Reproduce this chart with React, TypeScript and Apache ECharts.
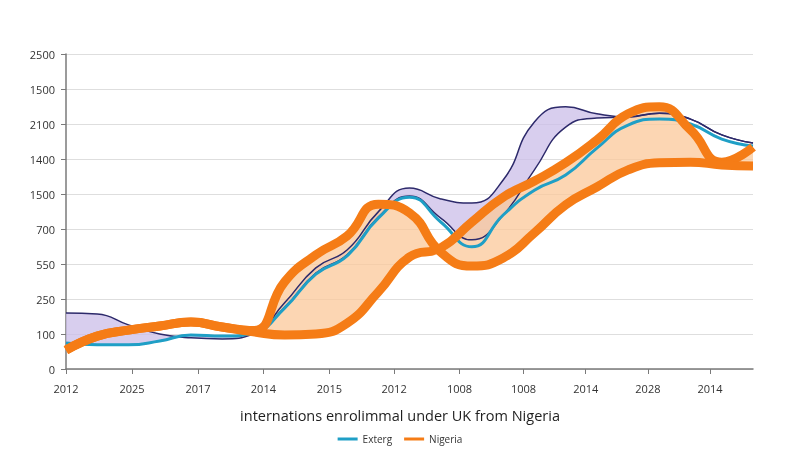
import React, { useEffect, useRef } from 'react';
import * as echarts from 'echarts';

// Tick labels as printed on the reference
const xLabels = ['2012', '2025', '2017', '2014', '2015', '2012', '1008', '1008', '2014', '2028', '2014'];
const yLabels = ['0', '100', '250', '550', '700', '1500', '1400', '2100', '1500', '2500'];
// Where each x tick sits along the axis (the reference spaces them slightly unevenly)
const xTickPos = [0, 1.03, 2.06, 3.08, 4.11, 5.12, 6.14, 7.14, 8.11, 9.08, 10.05];

// Values in y-axis tick units, sampled at 23 evenly spaced points across the plot
const exterg = [0.74, 0.69, 0.69, 0.8, 0.97, 0.94, 1.03, 1.74, 2.71, 3.23, 4.31, 4.91, 4.2, 3.49, 4.4, 5.11, 5.54, 6.31, 6.97, 7.14, 7.0, 6.57, 6.37];
const upperEnvelope = [1.6, 1.57, 1.26, 1.0, 0.89, 0.86, 1.0, 1.89, 2.89, 3.4, 4.49, 5.17, 4.86, 4.74, 5.4, 7.06, 7.49, 7.29, 7.2, 7.31, 7.14, 6.69, 6.46];
const innerEnvelope = [0.74, 0.69, 0.69, 0.8, 0.97, 0.94, 1.03, 1.76, 2.74, 3.26, 4.34, 4.94, 4.31, 3.69, 4.4, 5.69, 6.91, 7.17, 7.2, 7.31, 7.14, 6.69, 6.46];
const nigeriaA = [0.54, 0.94, 1.11, 1.23, 1.34, 1.2, 1.1, 2.49, 3.26, 3.8, 4.71, 4.46, 3.34, 2.94, 3.17, 3.89, 4.69, 5.2, 5.69, 5.89, 5.91, 5.83, 5.8];
const nigeriaB = [0.54, 0.94, 1.11, 1.23, 1.34, 1.2, 1.06, 0.97, 1.0, 1.31, 2.2, 3.2, 3.46, 4.2, 4.91, 5.37, 5.89, 6.54, 7.29, 7.49, 6.83, 5.91, 6.34];

const xMax = 10.72;

const NAVY = '#2d2a6b';
const CYAN = '#1f9fc6';
const ORANGE = '#f57c16';

export default function App() {
  const ref = useRef<HTMLDivElement>(null);

  useEffect(() => {
    if (!ref.current) return;
    const chart = echarts.init(ref.current, null, { renderer: 'svg' });
    const cats = exterg.map((_, i) => String(i));
    const lavDiff = upperEnvelope.map((v, i) => v - innerEnvelope[i]);
    const peachDiff = nigeriaB.map((v, i) => v - nigeriaA[i]);
    const labelFor = (v: number) => {
      const i = xTickPos.findIndex((p) => Math.abs(p - v) < 1e-6);
      return i >= 0 ? xLabels[i] : '';
    };
    const hidden = {
      type: 'line',
      xAxisIndex: 1,
      smooth: 0.5,
      symbol: 'none',
      silent: true,
      stackStrategy: 'all',
      lineStyle: { opacity: 0, width: 0 },
    };

    chart.setOption({
      animation: false,
      textStyle: { fontFamily: 'Open Sans' },
      title: {
        text: 'internations enrolimmal under UK from Nigeria',
        left: 'center',
        top: 403,
        textStyle: { fontSize: 14.5, fontWeight: 'normal', color: '#1e1e1e', fontFamily: 'Open Sans' },
      },
      legend: {
        data: ['Exterg', 'Nigeria'],
        left: 'center',
        top: 429,
        icon: 'rect',
        itemWidth: 20,
        itemHeight: 3,
        itemGap: 12,
        textStyle: { fontSize: 10, color: '#333' },
      },
      grid: { left: 66, right: 47, top: 54, bottom: 81 },
      xAxis: [
        {
          type: 'value',
          min: 0,
          max: xMax,
          axisLine: { show: true, lineStyle: { color: '#7a7a7a', width: 1.5 } },
          axisTick: { show: true, length: 5, customValues: xTickPos, lineStyle: { color: '#7a7a7a' } },
          axisLabel: {
            customValues: xTickPos,
            margin: 14,
            fontSize: 11,
            color: '#333',
            formatter: labelFor,
          },
          splitLine: { show: false },
        },
        { type: 'category', data: cats, boundaryGap: false, show: false },
      ],
      yAxis: {
        type: 'value',
        min: 0,
        max: 9,
        interval: 1,
        axisLine: { show: true, lineStyle: { color: '#7a7a7a', width: 1.5 } },
        axisTick: { show: true, length: 5, lineStyle: { color: '#7a7a7a' } },
        axisLabel: {
          margin: 11,
          fontSize: 11,
          color: '#333',
          formatter: (v: number) => yLabels[Math.round(v)] ?? '',
        },
        splitLine: { show: true, lineStyle: { color: '#dedede', width: 1 } },
      },
      series: [
        { ...hidden, name: 'lavBase', stack: 'lav', data: innerEnvelope },
        {
          ...hidden,
          name: 'lavBand',
          stack: 'lav',
          data: lavDiff,
          areaStyle: { color: '#cbbde8', opacity: 0.75 },
        },
        { ...hidden, name: 'peachBase', stack: 'peach', data: nigeriaA },
        {
          ...hidden,
          name: 'peachBand',
          stack: 'peach',
          data: peachDiff,
          areaStyle: { color: '#fbc89a', opacity: 0.75 },
        },
        {
          type: 'line', name: 'inner', xAxisIndex: 1, smooth: 0.5, symbol: 'none', silent: true,
          data: innerEnvelope, lineStyle: { color: NAVY, width: 1.5 }, itemStyle: { color: NAVY },
        },
        {
          type: 'line', name: 'upper', xAxisIndex: 1, smooth: 0.5, symbol: 'none', silent: true,
          data: upperEnvelope, lineStyle: { color: NAVY, width: 1.5 }, itemStyle: { color: NAVY },
        },
        {
          type: 'line', name: 'Exterg', xAxisIndex: 1, smooth: 0.5, symbol: 'none',
          data: exterg, lineStyle: { color: CYAN, width: 3 }, itemStyle: { color: CYAN },
        },
        {
          type: 'line', name: 'NigeriaB', xAxisIndex: 1, smooth: 0.5, symbol: 'none',
          data: nigeriaB, lineStyle: { color: ORANGE, width: 9, join: 'round' }, itemStyle: { color: ORANGE },
        },
        {
          type: 'line', name: 'Nigeria', xAxisIndex: 1, smooth: 0.5, symbol: 'none',
          data: nigeriaA, lineStyle: { color: ORANGE, width: 9, join: 'round' }, itemStyle: { color: ORANGE },
        },
      ],
    });
    return () => chart.dispose();
  }, []);

  return <div ref={ref} style={{ position: 'fixed', left: 0, top: 0, width: 800, height: 450 }} />;
}
